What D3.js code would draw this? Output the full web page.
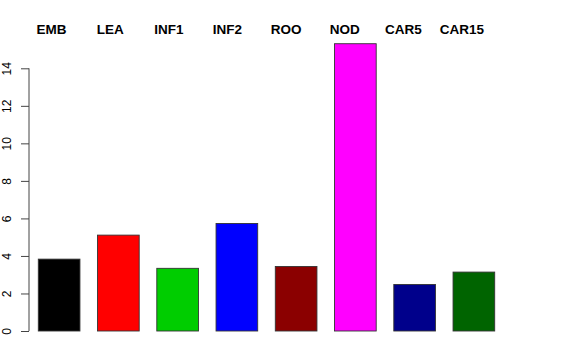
<!DOCTYPE html>
<html>
<head>
<meta charset="utf-8">
<script src="https://cdn.jsdelivr.net/npm/d3@7"></script>
<style>
  body { margin: 0; background: #fff; }
  svg { display: block; font-family: "Liberation Sans", Arial, sans-serif; }
</style>
</head>
<body>
<div id="chart"></div>
<script>
// data
var categories = ["EMB", "LEA", "INF1", "INF2", "ROO", "NOD", "CAR5", "CAR15"];
var values = [3.83, 5.11, 3.34, 5.73, 3.44, 15.31, 2.48, 3.14];
var colors = ["#000000", "#ff0000", "#00cd00", "#0000ff", "#8b0000", "#ff00ff", "#00008b", "#006400"];
var yTicks = [0, 2, 4, 6, 8, 10, 12, 14];

var width = 576, height = 360;

var svg = d3.select("#chart").append("svg")
    .attr("width", width)
    .attr("height", height);

var x = d3.scaleBand()
    .domain(categories)
    .range([29.5, 503.5])
    .paddingInner(0.297)
    .paddingOuter(0.1485);

// labels sit a little left of the bar centres
var xLab = d3.scalePoint()
    .domain(categories)
    .range([51.5, 462]);

var y = d3.scaleLinear()
    .domain([0, 14])
    .range([331, 68.3]);

// y axis, R style: line only across the tick range
var yAxis = svg.append("g")
    .attr("class", "y axis")
    .attr("transform", "translate(29,0)")
    .call(d3.axisLeft(y).tickValues(yTicks).tickSize(8));

yAxis.select(".domain").attr("d", "M0," + y(0) + "V" + y(14)).attr("stroke", "#444");
yAxis.selectAll(".tick line").attr("stroke", "#444");

// rotated tick labels, each turned around its own tick
yAxis.selectAll(".tick text")
    .attr("font-size", 12)
    .attr("fill", "#000")
    .attr("font-family", "Liberation Sans, Arial, sans-serif")
    .attr("text-anchor", "middle")
    .attr("transform", "translate(-22,0) rotate(-90)")
    .attr("x", 0)
    .attr("y", 0)
    .attr("dy", "0.35em");

svg.selectAll(".bar")
    .data(categories)
  .enter().append("rect")
    .attr("class", "bar")
    .attr("x", function(d) { return x(d); })
    .attr("y", function(d, i) { return y(values[i]); })
    .attr("width", x.bandwidth())
    .attr("height", function(d, i) { return y(0) - y(values[i]); })
    .attr("fill", function(d, i) { return colors[i]; })
    .attr("stroke", "#333")
    .attr("stroke-width", 0.9);

svg.selectAll(".lab")
    .data(categories)
  .enter().append("text")
    .attr("class", "lab")
    .attr("x", function(d) { return xLab(d); })
    .attr("y", 34)
    .attr("text-anchor", "middle")
    .attr("font-size", 13.5)
    .attr("font-weight", "bold")
    .text(function(d) { return d; });
</script>
</body>
</html>
